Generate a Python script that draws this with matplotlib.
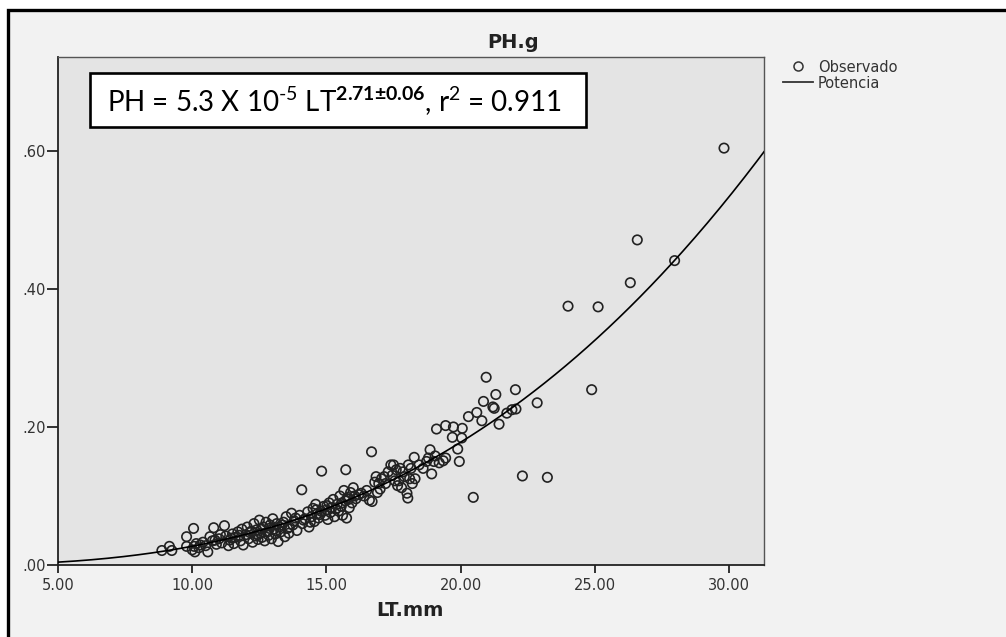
import matplotlib
matplotlib.use('Agg')
import matplotlib.pyplot as plt
import numpy as np
from matplotlib.patches import Rectangle
from matplotlib.lines import Line2D

# ---------------- data ----------------
lt_obs = [8.87, 9.15, 9.24, 9.79, 9.79, 10.05, 10.07, 10.10, 10.00, 10.15, 10.25, 10.40,
          10.58, 10.50, 10.66, 10.80, 10.75, 10.90, 11.00, 11.20, 11.10, 11.25, 11.35, 11.40,
          11.50, 11.55, 11.60, 11.70, 11.80, 11.85, 11.90, 12.00, 12.05, 12.10, 12.20, 12.25,
          12.30, 12.35, 12.40, 12.45, 12.50, 12.55, 12.60, 12.65, 12.70, 12.75, 12.80, 12.85,
          12.90, 12.95, 13.00, 13.05, 13.10, 13.15, 13.20, 13.25, 13.30, 13.40, 13.45, 13.50,
          13.55, 13.60, 13.70, 13.75, 13.80, 13.90, 14.00, 14.08, 14.10, 14.20, 14.30, 14.35,
          14.45, 14.50, 14.55, 14.60, 14.65, 14.70, 14.80, 14.82, 14.90, 14.95, 15.00, 15.05,
          15.10, 15.15, 15.20, 15.25, 15.30, 15.40, 15.45, 15.50, 15.55, 15.60, 15.65, 15.72,
          15.70, 15.75, 15.80, 15.85, 15.90, 15.95, 16.00, 16.10, 16.20, 16.40, 16.60, 16.68,
          16.70, 16.80, 16.85, 16.90, 17.00, 17.05, 17.20, 17.30, 17.40, 17.45, 17.50, 17.60,
          17.65, 17.70, 17.75, 17.80, 17.90, 18.00, 18.03, 18.05, 18.10, 18.20, 18.27, 18.30,
          18.60, 18.73, 18.86, 18.92, 19.05, 19.10, 19.20, 19.35, 19.44, 19.44, 19.69, 19.73,
          19.89, 19.95, 20.04, 20.06, 20.29, 20.47, 20.60, 20.79, 20.85, 20.95, 21.20, 21.25,
          21.31, 21.43, 21.72, 21.91, 22.04, 22.06, 22.30, 22.85, 23.23, 24.00, 24.88, 25.12,
          26.32, 26.58, 27.97, 29.81,
          # extra points in the dense band
          10.30, 10.85, 11.05, 11.45, 11.75, 12.15, 12.42, 12.58, 12.88, 13.12, 13.35, 13.62,
          13.85, 14.15, 14.40, 14.62, 14.75, 15.02, 15.35, 15.58, 15.82, 16.05, 16.30, 16.50,
          16.95, 17.15, 17.55, 17.85, 18.15, 18.45, 18.80, 19.00]
ph_obs = [0.021, 0.027, 0.021, 0.041, 0.027, 0.053, 0.027, 0.019, 0.022, 0.031, 0.025, 0.033,
          0.019, 0.028, 0.041, 0.054, 0.035, 0.030, 0.038, 0.057, 0.032, 0.042, 0.028, 0.036,
          0.045, 0.031, 0.040, 0.048, 0.035, 0.052, 0.029, 0.044, 0.055, 0.038, 0.049, 0.033,
          0.060, 0.042, 0.051, 0.037, 0.065, 0.046, 0.040, 0.055, 0.035, 0.062, 0.048, 0.043,
          0.058, 0.038, 0.067, 0.052, 0.045, 0.060, 0.034, 0.055, 0.048, 0.062, 0.041, 0.070,
          0.053, 0.046, 0.075, 0.058, 0.064, 0.050, 0.072, 0.109, 0.060, 0.067, 0.077, 0.055,
          0.070, 0.082, 0.063, 0.088, 0.074, 0.068, 0.078, 0.136, 0.085, 0.072, 0.080, 0.066,
          0.090, 0.076, 0.083, 0.095, 0.070, 0.088, 0.078, 0.100, 0.085, 0.072, 0.108, 0.138,
          0.093, 0.068, 0.098, 0.083, 0.105, 0.090, 0.112, 0.096, 0.102, 0.100, 0.094, 0.164,
          0.092, 0.120, 0.128, 0.105, 0.110, 0.125, 0.118, 0.135, 0.145, 0.130, 0.145, 0.138,
          0.115, 0.122, 0.140, 0.112, 0.128, 0.104, 0.097, 0.145, 0.125, 0.118, 0.156, 0.125,
          0.140, 0.150, 0.167, 0.132, 0.158, 0.197, 0.148, 0.151, 0.202, 0.155, 0.185, 0.200,
          0.168, 0.150, 0.184, 0.198, 0.215, 0.098, 0.221, 0.209, 0.237, 0.272, 0.229, 0.227,
          0.247, 0.204, 0.220, 0.225, 0.254, 0.226, 0.129, 0.235, 0.127, 0.375, 0.254, 0.374,
          0.409, 0.471, 0.441, 0.604,
          0.029, 0.036, 0.044, 0.039, 0.043, 0.047, 0.044, 0.052, 0.053, 0.050, 0.058, 0.055,
          0.068, 0.065, 0.062, 0.080, 0.073, 0.086, 0.081, 0.090, 0.095, 0.100, 0.104, 0.108,
          0.118, 0.128, 0.122, 0.135, 0.140, 0.145, 0.155, 0.150]

fit_coef = 5.3e-5
fit_expo = 2.71

x_ticks = [5, 10, 15, 20, 25, 30]
x_tick_labels = ['5.00', '10.00', '15.00', '20.00', '25.00', '30.00']
y_ticks = [0.0, 0.2, 0.4, 0.6]
y_tick_labels = ['.00', '.20', '.40', '.60']

title = 'PH.g'
x_label = 'LT.mm'
legend_labels = ['Observado', 'Potencia']
equation = r'PH = 5.3 X 10$^{\mathrm{\text{-}5}}$ LT$^{\mathbf{2.71±0.06}}$, r$^{\mathrm{2}}$ = 0.911'

# ---------------- figure ----------------
plt.rcParams['mathtext.fontset'] = 'custom'
plt.rcParams['mathtext.rm'] = 'Lato'
plt.rcParams['mathtext.bf'] = 'Lato:bold'
plt.rcParams['mathtext.it'] = 'Lato:italic'

W, H = 1006, 637
fig = plt.figure(figsize=(W / 100, H / 100), dpi=100, facecolor='white')


def fx(x):
    return x / W


def fy(y):
    return 1 - y / H


# outer panel with black frame (right/bottom outside the image)
fig.add_artist(Rectangle((fx(8), fy(720)), fx(1100) - fx(8), fy(10) - fy(720),
                         transform=fig.transFigure, facecolor='#f2f2f2',
                         edgecolor='black', linewidth=2.4, zorder=0))

ax = fig.add_axes([fx(58), fy(565), fx(764) - fx(58), fy(57) - fy(565)])
ax.set_facecolor('#e4e4e4')
ax.set_xlim(5, 31.3)
ax.set_ylim(0, 0.736)

xs = np.linspace(5, 31.3, 400)
ax.plot(xs, fit_coef * xs ** fit_expo, color='black', lw=1.2, zorder=3)
ax.scatter(lt_obs, ph_obs, s=46, facecolors='none', edgecolors='#222222',
           linewidths=1.2, zorder=2)

ax.set_xticks(x_ticks)
ax.set_xticklabels(x_tick_labels)
ax.set_yticks(y_ticks)
ax.set_yticklabels(y_tick_labels)
ax.tick_params(axis='x', direction='out', length=6, width=1.3, pad=3,
               labelsize=10.5, labelcolor='#333333', color='#222222')
ax.tick_params(axis='y', direction='out', length=8, width=1.3, pad=0.5,
               labelsize=10.5, labelcolor='#333333', color='#222222')
for s in ('left', 'bottom'):
    ax.spines[s].set_color('#222222')
    ax.spines[s].set_linewidth(1.3)
for s in ('top', 'right'):
    ax.spines[s].set_color('#555555')
    ax.spines[s].set_linewidth(1.0)

fig.text(fx(513), fy(43), title, ha='center', va='center', fontsize=14,
         fontweight='bold', color='#222222')
fig.text(fx(410), fy(610), x_label, ha='center', va='center', fontsize=14,
         fontweight='bold', color='#222222')

# equation box
fig.add_artist(Rectangle((fx(90), fy(127)), fx(586) - fx(90), fy(73) - fy(127),
                         transform=fig.transFigure, facecolor='white',
                         edgecolor='black', linewidth=1.9, zorder=5))
fig.text(fx(107), fy(101), equation, ha='left', va='center', fontsize=20,
         family='Lato', color='black', zorder=6)

# legend
fig.add_artist(Line2D([fx(798)], [fy(66)], marker='o', ms=6.5, mfc='none',
                      mec='#333333', mew=1.1, transform=fig.transFigure))
fig.add_artist(Line2D([fx(783), fx(813)], [fy(82), fy(82)], color='#333333',
                      lw=1.3, transform=fig.transFigure))
fig.text(fx(818), fy(67), legend_labels[0], ha='left', va='center', fontsize=10.5,
         color='#333333')
fig.text(fx(818), fy(83), legend_labels[1], ha='left', va='center', fontsize=10.5,
         color='#333333')

fig.savefig('out.png', dpi=100, facecolor=fig.get_facecolor())
